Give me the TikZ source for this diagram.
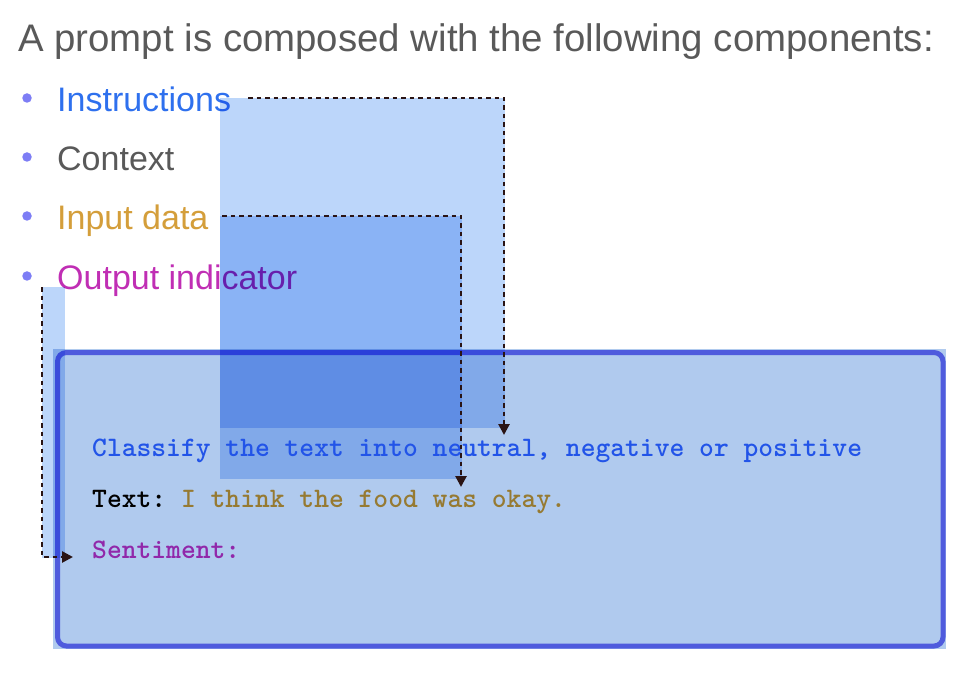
\documentclass[tikz,border=0pt]{standalone}
\usepackage{fontspec}
\setmainfont{Liberation Sans}
\usetikzlibrary{calc,arrows.meta}
\definecolor{titlegray}{RGB}{89,89,89}
\definecolor{instrblue}{RGB}{46,112,238}
\definecolor{inputgold}{RGB}{212,158,58}
\definecolor{outmagenta}{RGB}{192,46,180}
\definecolor{dotblue}{RGB}{125,125,245}
\definecolor{partblue}{RGB}{188,214,250}
\definecolor{boxfill}{RGB}{176,202,238}
\definecolor{boxline}{RGB}{0,0,208}
\definecolor{classblue}{RGB}{34,84,232}
\definecolor{foodgold}{RGB}{150,122,50}
\definecolor{sentpurple}{RGB}{145,40,170}
\definecolor{arrowdark}{RGB}{42,20,20}
\tikzset{
    item/.style= {anchor=base west,inner sep=0,font=\fontsize{34}{40}\selectfont},
    prompt/.style= {anchor=base west,inner sep=0,font=\ttfamily\bfseries\fontsize{28.2}{34}\selectfont\frenchspacing},
    bullet/.style= {circle,fill=dotblue,inner sep=0,minimum size=9.5},
    link/.style= {draw=arrowdark,line width=2.6,dash pattern=on 4.5pt off 4pt,-{Triangle[length=11pt,width=11pt]}}
}

\begin{document}
\begin{tikzpicture}[x=1pt,y=-1pt]
    \useasboundingbox (0,0) rectangle (974,676);
    \node[anchor=base west,inner sep=0,text=titlegray,font=\fontsize{38.4}{46}\selectfont]
        (title) at (18,52) {A prompt is composed with the following components:};
    \node[item,text=instrblue] (i0) at (57,112) {Instructions};
    \node[item,text=titlegray] (i1) at (57,171) {Context};
    \node[item,text=inputgold] (i2) at (57,230) {Input data};
    \node[item,text=outmagenta] (i3) at (57,290) {Output indicator};
    \foreach \k in {0,...,3}
        \node[bullet] (d\k) at ($(i\k.base west)+(-30,-14)$) {};

    \begin{scope}[blend mode=multiply]
        \fill[partblue] (220,98) rectangle (505,428);
        \fill[partblue] (220,216) rectangle (462,479);
        \fill[partblue] (42,287) rectangle (65,558);
        \fill[boxfill] (53,349) rectangle (946,649);
    \end{scope}
    \draw[boxline,draw opacity=0.55,line width=5,rounded corners=9] (57.5,352.5) rectangle (943,646);

    \node[prompt,text=classblue] (p0) at (92,456) {Classify the text into neutral, negative or positive};
    \node[prompt,text=black] (p1) at (92,507) {Text: \textcolor{foodgold}{I think the food was okay.}};
    \node[prompt,text=sentpurple] (p2) at (92,558) {Sentiment:};

    \coordinate (c0) at (248,98);
    \coordinate (a0) at (504,435);
    \coordinate (c1) at (222,216);
    \coordinate (a1) at (461,487);
    \coordinate (c2) at (42,287);
    \coordinate (a2) at ($(p2.base west)+(-19,-1)$);
    \draw[link] (c0) -| (a0);
    \draw[link] (c1) -| (a1);
    \draw[link] (c2) |- (a2);
\end{tikzpicture}
\end{document}
